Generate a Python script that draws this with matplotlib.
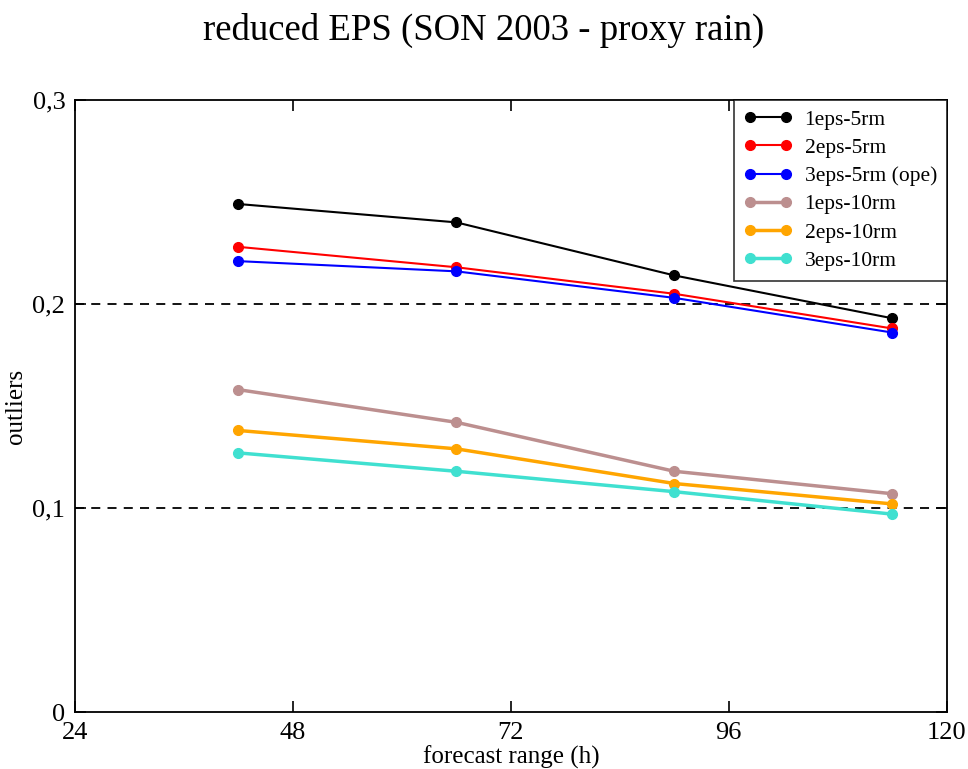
import matplotlib
matplotlib.use("Agg")
import matplotlib.pyplot as plt

plt.rcParams['font.family'] = ['Liberation Serif', 'DejaVu Serif']

forecast_range = [42, 66, 90, 114]
eps1_5rm = [0.249, 0.240, 0.214, 0.193]
eps2_5rm = [0.228, 0.218, 0.205, 0.188]
eps3_5rm = [0.221, 0.216, 0.203, 0.186]
eps1_10rm = [0.158, 0.142, 0.118, 0.107]
eps2_10rm = [0.138, 0.129, 0.112, 0.102]
eps3_10rm = [0.127, 0.118, 0.108, 0.097]

x_ticks = [24, 48, 72, 96, 120]
y_ticks = [0, 0.1, 0.2, 0.3]
y_labels = ['0', '0,1', '0,2', '0,3']

fig = plt.figure(figsize=(9.68, 7.69), dpi=100)
ax = fig.add_axes([0.0775, 0.0741, 0.9005, 0.7959])

ax.axhline(0.1, color='black', linestyle=(0, (5, 4)), linewidth=1.3, zorder=1)
ax.axhline(0.2, color='black', linestyle=(0, (5, 4)), linewidth=1.3, zorder=1)

series = [
    (eps1_5rm, 'black', '1eps-5rm', 1.5),
    (eps2_5rm, '#ff0000', '2eps-5rm', 1.5),
    (eps3_5rm, '#0000ff', '3eps-5rm (ope)', 1.5),
    (eps1_10rm, '#bc8f8f', '1eps-10rm', 2.5),
    (eps2_10rm, '#ffa500', '2eps-10rm', 2.5),
    (eps3_10rm, '#40e0d0', '3eps-10rm', 2.5),
]
for vals, c, lab, lw in series:
    ax.plot(forecast_range, vals, color=c, linewidth=lw, marker='o', markersize=7, label=lab, zorder=3)

ax.set_xlim(24, 120)
ax.set_ylim(0, 0.3)
ax.set_xticks(x_ticks)
ax.set_xticklabels([str(t) for t in x_ticks])
ax.set_yticks(y_ticks)
ax.set_yticklabels(y_labels)
ax.tick_params(direction='in', top=True, right=True, length=8, width=1.2, labelsize=19)
ax.tick_params(axis='x', pad=7)
ax.tick_params(axis='y', pad=7)
for s in ax.spines.values():
    s.set_linewidth(1.3)

ax.set_xlabel('forecast range (h)', fontsize=18, labelpad=1)
ax.set_ylabel('outliers', fontsize=18, labelpad=4)
fig.suptitle('reduced EPS (SON 2003 - proxy rain)', fontsize=26.5, y=0.983)

leg = ax.legend(loc='upper right', fontsize=15.5, frameon=True, fancybox=False,
                edgecolor='black', borderaxespad=0.0, handlelength=2.3, numpoints=2,
                labelspacing=0.38, borderpad=0.45, handletextpad=0.55)
leg.get_frame().set_linewidth(1.2)

fig.savefig('out.png', dpi=100)
